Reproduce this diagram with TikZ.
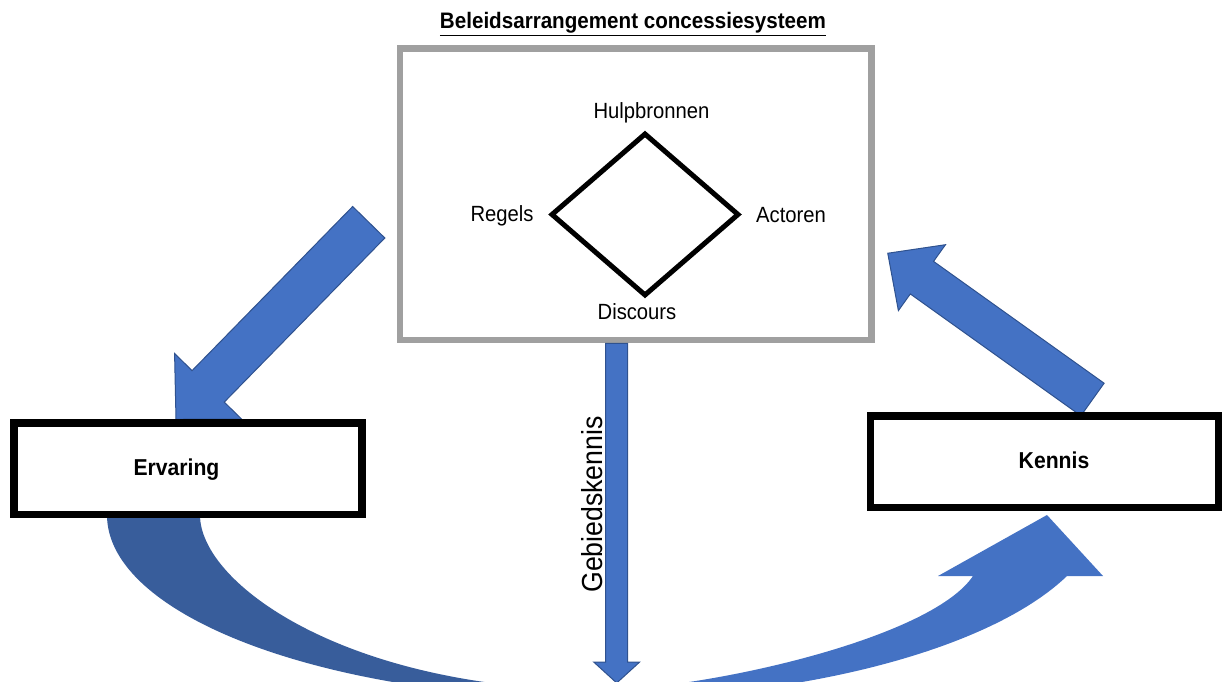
\documentclass[tikz,border=0pt]{standalone}
\usepackage{fontspec}
\setmainfont{Liberation Sans}[FakeStretch=0.92]
\usetikzlibrary{calc,shapes.geometric,backgrounds}

\definecolor{pijlblauw}{HTML}{4472C4}
\definecolor{pijldonker}{HTML}{385D9B}
\definecolor{pijlrand}{HTML}{2F528F}
\definecolor{kadergrijs}{HTML}{A0A0A0}

\tikzset{
  pijl/.style={fill=pijlblauw, draw=pijlrand, line width=1pt, line join=miter},
  blok/.style={draw=black, line width=7.5pt, fill=white, minimum width=348pt, minimum height=91.5pt, inner sep=0pt},
  bloktekst/.style={anchor=base, inner sep=0pt, font=\fontsize{23}{27}\selectfont\bfseries},
  ruittekst/.style={anchor=base, inner sep=0pt, font=\fontsize{22}{26}\selectfont},
}

% block arrow: tail, tip, half shaft, half head, head length
\newcommand{\blokpijl}[5]{%
  \coordinate (bp-a) at #1;
  \coordinate (bp-b) at #2;
  \coordinate (bp-h) at ($(bp-b)!#5!(bp-a)$);
  \filldraw[pijl] ($(bp-a)!#3!90:(bp-b)$) -- ($(bp-h)!#3!-90:(bp-a)$)
    -- ($(bp-h)!#4!-90:(bp-a)$) -- (bp-b) -- ($(bp-h)!#4!90:(bp-a)$)
    -- ($(bp-h)!#3!90:(bp-a)$) -- ($(bp-a)!#3!-90:(bp-b)$) -- cycle;
}

\begin{document}
\begin{tikzpicture}[x=1pt, y=1pt]
  \useasboundingbox (0,0) rectangle (1223,681);

  % beleidsarrangement
  \node[anchor=base, font=\fontsize{22.4}{26}\selectfont\bfseries] (titel) at (633,652) {\underline{Beleidsarrangement concessiesysteem}};
  \node[draw=kadergrijs, line width=6.5pt, minimum width=471.5pt, minimum height=291.5pt] (beleid) at (635.75,486.75) {};
  \node[draw, line width=5pt, diamond, minimum width=188pt, minimum height=163pt, inner sep=0pt] (ruit) at (645,466.5) {};
  \node[ruittekst] (hulp) at (651.5,562) {Hulpbronnen};
  \node[ruittekst] (regels) at (502,459) {Regels};
  \node[ruittekst] (actoren) at (791,458) {Actoren};
  \node[ruittekst] (discours) at (637,362) {Discours};

  % ervaring en kennis
  \node[blok] (ervaring) at (188,212.25) {};
  \node[bloktekst] (ervtekst) at (176.5,206) {Ervaring};
  \node[blok] (kennis) at (1044.5,219.25) {};
  \node[bloktekst] (kentekst) at (1054,213) {Kennis};

  % pijlen
  \begin{scope}[on background layer]
    \clip (0,0) rectangle (1223,681);
    \fill[pijldonker] (107,166) .. controls (107,64.4) and (327.7,-18) .. (600,-18)
      -- (600,-9) .. controls (350,-9) and (200,96) .. (200,166) -- cycle;
    \fill[pijlblauw] (600,-18) .. controls (800,-18) and (990,31) .. (1067,105)
      -- (1103,105) -- (1047,166) -- (938,105) -- (973,105)
      .. controls (930,41) and (700,-9) .. (600,-9) -- cycle;
    \blokpijl{($(beleid.west)+(-28,-28)$)}{(ervaring.north -| 176,0)}{22.5pt}{47pt}{46pt}
    \blokpijl{($(kennis.north)+(48,12.75)$)}{($(beleid.east)+(13,-59)$)}{20pt}{40.5pt}{42pt}
  \end{scope}
  \blokpijl{(beleid.south -| 616.7,0)}{(616.7,-2)}{11pt}{23pt}{21pt}
  \node[rotate=90, anchor=base, inner sep=0pt, font=\fontsize{29}{34}\selectfont] (gebied) at (602,176.5) {Gebiedskennis};
\end{tikzpicture}
\end{document}
